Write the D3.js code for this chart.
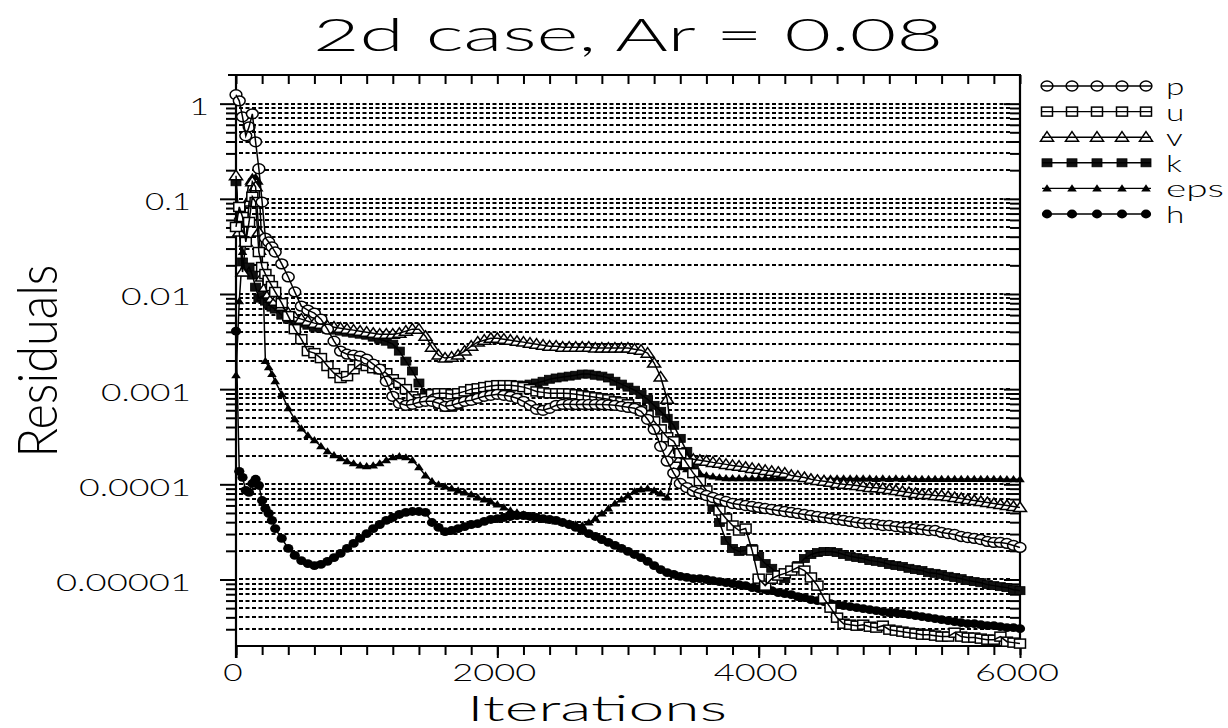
<!DOCTYPE html>
<html><head><meta charset="utf-8">
<script src="https://cdn.jsdelivr.net/npm/d3@7/dist/d3.min.js"></script>
<style>
html,body{margin:0;padding:0;background:#fff;}
svg{display:block;}
</style></head><body>
<svg id="chart" width="1228" height="728"></svg>
<script>
// ---------------- DATA ----------------
const iterations = [0,25,50,75,100,125,150,175,200,225,250,275,300,
 350,400,450,500,550,600,650,700,750,800,
 850,900,950,1000,1050,1100,1150,1200,1250,1300,
 1350,1400,1450,1500,1550,1600,1650,1700,1750,1800,
 1850,1900,1950,2000,2050,2100,2150,2200,2250,2300,
 2350,2400,2450,2500,2550,2600,2650,2700,2750,2800,
 2850,2900,2950,3000,3050,3100,3150,3200,3250,3300,
 3350,3400,3450,3500,3550,3600,3650,3700,3750,3800,
 3850,3900,3950,4000,4050,4100,4150,4200,4250,4300,
 4350,4400,4450,4500,4550,4600,4650,4700,4750,4800,
 4850,4900,4950,5000,5050,5100,5150,5200,5250,5300,
 5350,5400,5450,5500,5550,5600,5650,5700,5750,5800,
 5850,5900,5950,6000];

const residualP = [1.24,1.07,0.727,0.459,0.571,0.782,0.397,0.207,0.0925,0.0387,0.0352,0.0312,0.0276,
 0.0207,0.0151,0.0105,7.45e-3,6.76e-3,6.29e-3,5.44e-3,4.27e-3,3.19e-3,2.51e-3,
 2.33e-3,2.28e-3,2.22e-3,2.07e-3,1.83e-3,1.62e-3,1.21e-3,8.41e-4,7.10e-4,6.76e-4,
 6.93e-4,7.27e-4,7.45e-4,7.45e-4,7.10e-4,6.60e-4,6.76e-4,7.10e-4,7.45e-4,7.63e-4,
 8.01e-4,8.41e-4,8.62e-4,8.83e-4,8.62e-4,8.41e-4,8.01e-4,7.45e-4,6.76e-4,6.14e-4,
 5.99e-4,6.29e-4,6.76e-4,6.93e-4,6.93e-4,6.90e-4,6.93e-4,6.90e-4,6.93e-4,6.90e-4,
 6.85e-4,6.76e-4,6.60e-4,6.44e-4,6.29e-4,5.85e-4,4.82e-4,3.78e-4,2.51e-4,1.75e-4,
 1.31e-4,1.02e-4,9.25e-5,8.41e-5,8.01e-5,7.63e-5,7.27e-5,6.93e-5,6.60e-5,6.29e-5,
 6.14e-5,5.99e-5,5.85e-5,5.71e-5,5.57e-5,5.44e-5,5.31e-5,5.18e-5,5.06e-5,4.94e-5,
 4.82e-5,4.70e-5,4.59e-5,4.48e-5,4.37e-5,4.27e-5,4.17e-5,4.07e-5,3.97e-5,3.87e-5,
 3.87e-5,3.78e-5,3.69e-5,3.69e-5,3.60e-5,3.52e-5,3.52e-5,3.43e-5,3.35e-5,3.27e-5,
 3.27e-5,3.12e-5,3.04e-5,2.97e-5,2.83e-5,2.76e-5,2.70e-5,2.63e-5,2.51e-5,2.45e-5,
 2.45e-5,2.39e-5,2.28e-5,2.17e-5];

const residualU = [5.06e-2,8.21e-2,6.44e-2,3.52e-2,5.71e-2,0.105,9.25e-2,2.76e-2,1.92e-2,1.62e-2,1.40e-2,1.21e-2,1.05e-2,
 8.01e-3,5.85e-3,4.27e-3,3.35e-3,2.51e-3,2.39e-3,2.12e-3,1.75e-3,1.47e-3,1.31e-3,
 1.37e-3,1.62e-3,1.83e-3,1.75e-3,1.66e-3,1.62e-3,1.47e-3,1.27e-3,1.16e-3,1.0e-3,
 8.41e-4,7.82e-4,8.01e-4,8.83e-4,9.04e-4,9.04e-4,8.83e-4,9.04e-4,9.47e-4,1.0e-3,
 1.02e-3,1.05e-3,1.08e-3,1.10e-3,1.10e-3,1.10e-3,1.08e-3,1.05e-3,1.0e-3,9.47e-4,
 9.25e-4,9.04e-4,9.04e-4,9.04e-4,9.0e-4,8.83e-4,8.62e-4,8.41e-4,8.21e-4,8.01e-4,
 7.82e-4,7.45e-4,7.27e-4,6.93e-4,6.44e-4,5.99e-4,5.31e-4,4.59e-4,3.78e-4,3.12e-4,
 2.83e-4,2.12e-4,1.66e-4,1.31e-4,1.08e-4,8.62e-5,6.76e-5,5.31e-5,4.37e-5,3.69e-5,
 3.27e-5,3.43e-5,2.02e-5,1.02e-5,8.62e-6,1.02e-5,1.10e-5,1.16e-5,1.24e-5,1.34e-5,
 1.24e-5,1.05e-5,8.62e-6,6.29e-6,5.06e-6,3.97e-6,3.43e-6,3.35e-6,3.27e-6,3.35e-6,
 3.19e-6,3.12e-6,3.27e-6,2.97e-6,2.90e-6,2.83e-6,2.76e-6,2.70e-6,2.63e-6,2.63e-6,
 2.57e-6,2.51e-6,2.51e-6,2.76e-6,2.51e-6,2.45e-6,2.45e-6,2.39e-6,2.33e-6,2.33e-6,
 2.51e-6,2.22e-6,2.17e-6,2.12e-6];

const residualV = [0.175,4.48e-2,1.70e-2,3.52e-2,9.25e-2,0.151,0.134,4.48e-2,1.51e-2,1.18e-2,1.0e-2,9.04e-3,8.41e-3,
 7.45e-3,6.29e-3,5.71e-3,5.44e-3,5.18e-3,4.94e-3,4.82e-3,4.59e-3,4.48e-3,4.37e-3,
 4.27e-3,4.17e-3,4.07e-3,3.97e-3,3.87e-3,3.78e-3,3.78e-3,3.78e-3,3.87e-3,4.07e-3,
 4.27e-3,4.27e-3,3.60e-3,2.76e-3,2.28e-3,2.12e-3,2.17e-3,2.28e-3,2.51e-3,2.83e-3,
 3.12e-3,3.27e-3,3.43e-3,3.43e-3,3.35e-3,3.27e-3,3.19e-3,3.12e-3,3.04e-3,2.97e-3,
 2.90e-3,2.83e-3,2.83e-3,2.76e-3,2.76e-3,2.76e-3,2.76e-3,2.76e-3,2.70e-3,2.70e-3,
 2.70e-3,2.70e-3,2.70e-3,2.70e-3,2.63e-3,2.57e-3,2.39e-3,1.88e-3,1.34e-3,7.82e-4,
 2.12e-4,1.88e-4,1.83e-4,1.83e-4,1.79e-4,1.75e-4,1.70e-4,1.66e-4,1.62e-4,1.58e-4,
 1.55e-4,1.51e-4,1.47e-4,1.44e-4,1.40e-4,1.37e-4,1.34e-4,1.31e-4,1.24e-4,1.21e-4,
 1.18e-4,1.13e-4,1.10e-4,1.08e-4,1.05e-4,1.02e-4,1.0e-4,9.9e-5,9.7e-5,9.5e-5,
 9.25e-5,9.2e-5,9.04e-5,8.83e-5,8.62e-5,8.41e-5,8.21e-5,8.01e-5,7.82e-5,7.8e-5,
 7.63e-5,7.6e-5,7.45e-5,7.27e-5,7.10e-5,6.93e-5,6.76e-5,6.60e-5,6.44e-5,6.29e-5,
 6.14e-5,5.99e-5,5.85e-5,5.71e-5];

const residualK = [0.151,5.71e-2,2.17e-2,1.70e-2,1.92e-2,1.58e-2,1.18e-2,9.04e-3,9.47e-3,8.41e-3,7.82e-3,7.27e-3,6.93e-3,
 5.99e-3,5.44e-3,5.18e-3,4.94e-3,4.70e-3,4.48e-3,4.37e-3,4.27e-3,4.17e-3,4.07e-3,
 3.97e-3,3.87e-3,3.78e-3,3.69e-3,3.52e-3,3.35e-3,3.19e-3,2.97e-3,2.51e-3,1.97e-3,
 1.55e-3,1.16e-3,9.04e-4,7.82e-4,6.93e-4,6.44e-4,6.44e-4,6.76e-4,7.45e-4,8.01e-4,
 8.41e-4,8.83e-4,9.25e-4,9.47e-4,1.0e-3,1.05e-3,1.08e-3,1.10e-3,1.13e-3,1.16e-3,
 1.21e-3,1.27e-3,1.31e-3,1.34e-3,1.37e-3,1.40e-3,1.44e-3,1.44e-3,1.40e-3,1.37e-3,
 1.31e-3,1.21e-3,1.13e-3,1.05e-3,9.74e-4,8.83e-4,7.82e-4,6.76e-4,5.85e-4,4.94e-4,
 4.17e-4,3.04e-4,2.22e-4,1.55e-4,1.13e-4,8.21e-5,5.71e-5,3.97e-5,2.57e-5,2.12e-5,
 1.97e-5,2.02e-5,2.12e-5,1.75e-5,1.47e-5,1.31e-5,1.13e-5,1.02e-5,1.24e-5,1.40e-5,
 1.66e-5,1.83e-5,1.92e-5,1.97e-5,1.97e-5,1.92e-5,1.83e-5,1.75e-5,1.70e-5,1.66e-5,
 1.58e-5,1.55e-5,1.51e-5,1.44e-5,1.40e-5,1.37e-5,1.31e-5,1.27e-5,1.24e-5,1.18e-5,
 1.16e-5,1.13e-5,1.08e-5,1.05e-5,1.02e-5,9.74e-6,9.5e-6,9.25e-6,8.83e-6,8.62e-6,
 8.41e-6,8.21e-6,7.82e-6,7.63e-6];

const residualEps = [1.40e-3,8.41e-3,2.76e-2,9.25e-2,0.151,0.170,0.170,0.151,2.76e-2,1.97e-3,1.70e-3,1.44e-3,1.21e-3,
 8.83e-4,6.29e-4,4.82e-4,3.87e-4,3.27e-4,2.90e-4,2.51e-4,2.22e-4,2.02e-4,1.88e-4,
 1.75e-4,1.66e-4,1.58e-4,1.55e-4,1.58e-4,1.66e-4,1.79e-4,1.92e-4,1.97e-4,1.92e-4,
 1.79e-4,1.51e-4,1.24e-4,1.08e-4,9.97e-5,9.5e-5,9.04e-5,8.62e-5,8.21e-5,7.82e-5,
 7.27e-5,6.93e-5,6.60e-5,6.14e-5,5.71e-5,5.31e-5,5.06e-5,4.82e-5,4.59e-5,4.37e-5,
 4.27e-5,4.17e-5,4.07e-5,3.97e-5,3.87e-5,3.78e-5,3.69e-5,3.97e-5,4.37e-5,4.94e-5,
 5.57e-5,6.29e-5,6.93e-5,7.63e-5,8.41e-5,8.83e-5,9.04e-5,8.62e-5,8.01e-5,7.27e-5,
 1.37e-4,1.51e-4,1.44e-4,1.37e-4,1.31e-4,1.24e-4,1.21e-4,1.18e-4,1.16e-4,1.16e-4,
 1.16e-4,1.16e-4,1.16e-4,1.16e-4,1.16e-4,1.16e-4,1.16e-4,1.16e-4,1.16e-4,1.16e-4,
 1.16e-4,1.16e-4,1.16e-4,1.15e-4,1.15e-4,1.15e-4,1.15e-4,1.15e-4,1.15e-4,1.15e-4,
 1.15e-4,1.14e-4,1.15e-4,1.14e-4,1.15e-4,1.14e-4,1.15e-4,1.14e-4,1.14e-4,1.14e-4,
 1.14e-4,1.14e-4,1.14e-4,1.14e-4,1.14e-4,1.14e-4,1.14e-4,1.14e-4,1.14e-4,1.14e-4,
 1.14e-4,1.13e-4,1.13e-4,1.13e-4];

const residualH = [4.07e-3,1.37e-4,1.18e-4,8.62e-5,8.21e-5,1.02e-4,1.13e-4,9.74e-5,6.76e-5,5.57e-5,4.94e-5,4.17e-5,3.43e-5,
 2.70e-5,2.12e-5,1.79e-5,1.58e-5,1.47e-5,1.40e-5,1.44e-5,1.55e-5,1.70e-5,1.88e-5,
 2.12e-5,2.39e-5,2.70e-5,3.04e-5,3.43e-5,3.78e-5,4.17e-5,4.48e-5,4.82e-5,5.06e-5,
 5.18e-5,5.18e-5,5.06e-5,3.97e-5,3.52e-5,3.19e-5,3.27e-5,3.43e-5,3.60e-5,3.78e-5,
 3.87e-5,4.07e-5,4.27e-5,4.37e-5,4.48e-5,4.59e-5,4.70e-5,4.70e-5,4.59e-5,4.48e-5,
 4.37e-5,4.27e-5,4.17e-5,3.97e-5,3.78e-5,3.52e-5,3.27e-5,3.04e-5,2.83e-5,2.63e-5,
 2.45e-5,2.28e-5,2.12e-5,1.97e-5,1.83e-5,1.70e-5,1.55e-5,1.40e-5,1.27e-5,1.18e-5,
 1.13e-5,1.08e-5,1.05e-5,1.02e-5,1.02e-5,1.0e-5,9.74e-6,9.5e-6,9.25e-6,9.04e-6,
 8.83e-6,8.62e-6,8.21e-6,8.01e-6,7.82e-6,7.63e-6,7.27e-6,7.10e-6,6.93e-6,6.60e-6,
 6.44e-6,6.14e-6,5.99e-6,5.85e-6,5.57e-6,5.44e-6,5.31e-6,5.18e-6,5.06e-6,4.94e-6,
 4.82e-6,4.70e-6,4.59e-6,4.48e-6,4.48e-6,4.37e-6,4.27e-6,4.17e-6,4.07e-6,3.97e-6,
 3.87e-6,3.78e-6,3.69e-6,3.60e-6,3.52e-6,3.43e-6,3.43e-6,3.35e-6,3.27e-6,3.27e-6,
 3.19e-6,3.12e-6,3.12e-6,3.04e-6];

const seriesNames = ["p","u","v","k","eps","h"];
const xTickValues = [0,2000,4000,6000];
const xTickLabels = ["0","2000","4000","6000"];
const yTickValues = [1,0.1,0.01,0.001,0.0001,0.00001];
const yTickLabels = ["1","0.1","0.01","0.001","0.0001","0.00001"];
const titleText = "2d case, Ar = 0.08";
const xAxisTitle = "Iterations";
const yAxisTitle = "Residuals";

// ---------------- CHART ----------------
const FONT = "Lato, 'DejaVu Sans', sans-serif";
const svg = d3.select("#chart");
svg.append("rect").attr("width",1228).attr("height",728).attr("fill","#fff");

const x = d3.scaleLinear().domain([0,6000]).range([236,1020]);
const y = d3.scaleLog().domain([2e-6,2]).range([646,75]);

const isDecade = v => Math.abs(Math.log10(v) - Math.round(Math.log10(v))) < 1e-6;
const gridValues = y.ticks().filter(v => v > 2.0001e-6 && v < 1.9999);
const majorY = gridValues.filter(isDecade);
const minorY = gridValues.filter(v => !isDecade(v));

// dashed horizontal grid
svg.append("g").selectAll("line").data(gridValues).join("line")
  .attr("x1", x(0)+3).attr("x2", x(6000)-9)
  .attr("y1", d => Math.round(y(d))).attr("y2", d => Math.round(y(d)))
  .attr("stroke","#000").attr("stroke-width",2).attr("stroke-dasharray","4,2.5");

function styleAxis(g){
  g.select(".domain").remove();
  g.selectAll("text").remove();
  g.selectAll("line").attr("stroke","#000").attr("stroke-width",2);
}
svg.append("g").attr("transform",`translate(${x(0)},0)`).call(d3.axisLeft(y).tickValues(majorY).tickSize(16)).call(styleAxis);
svg.append("g").attr("transform",`translate(${x(0)},0)`).call(d3.axisLeft(y).tickValues(minorY).tickSize(10)).call(styleAxis);
svg.append("g").attr("transform",`translate(${x(6000)},0)`).call(d3.axisRight(y).tickValues(majorY).tickSize(-16)).call(styleAxis);
svg.append("g").attr("transform",`translate(${x(6000)},0)`).call(d3.axisRight(y).tickValues(minorY).tickSize(-10)).call(styleAxis);
svg.append("g").attr("transform",`translate(0,${y(2e-6)})`).call(d3.axisBottom(x).tickValues(x.ticks(30)).tickSize(9)).call(styleAxis);
svg.append("g").attr("transform",`translate(0,${y(2e-6)})`).call(d3.axisBottom(x).tickValues(xTickValues).tickSize(12)).call(styleAxis);
svg.append("g").attr("transform",`translate(0,${y(2)})`).call(d3.axisTop(x).tickValues(x.ticks(30)).tickSize(-9)).call(styleAxis);

// frame
const frame = svg.append("g").attr("stroke","#000").attr("stroke-width",2.2).attr("fill","none");
frame.append("line").attr("x1",x(0)-8).attr("x2",x(6000)+1).attr("y1",y(2)).attr("y2",y(2));
frame.append("line").attr("x1",x(6000)).attr("x2",x(6000)).attr("y1",y(2)).attr("y2",y(2e-6));
frame.append("line").attr("x1",x(0)).attr("x2",x(6000)).attr("y1",y(2e-6)).attr("y2",y(2e-6));
frame.append("line").attr("x1",x(0)).attr("x2",x(0)).attr("y1",y(2)).attr("y2",y(2e-6)+12);

// marker shapes
const markerDraw = {
  p: g => g.append("ellipse").attr("rx",5.9).attr("ry",4.9).attr("fill","#fff").attr("stroke","#000").attr("stroke-width",1.5),
  u: g => g.append("rect").attr("x",-5.5).attr("y",-4.5).attr("width",11).attr("height",9).attr("fill","#fff").attr("stroke","#000").attr("stroke-width",1.5),
  v: g => g.append("path").attr("d","M0,-5.5L6.5,4L-6.5,4Z").attr("fill","#fff").attr("stroke","#000").attr("stroke-width",1.5),
  k: g => g.append("rect").attr("x",-5).attr("y",-4).attr("width",10).attr("height",8).attr("fill","#111").attr("stroke","#000").attr("stroke-width",0.8),
  eps: g => g.append("path").attr("d","M0,-4.2L4.8,3L-4.8,3Z").attr("fill","#000"),
  h: g => g.append("ellipse").attr("rx",5.1).attr("ry",4.4).attr("fill","#000")
};

const seriesValues = {p:residualP,u:residualU,v:residualV,k:residualK,eps:residualEps,h:residualH};
const line = d3.line().x(d => x(d[0])).y(d => y(d[1]));
const drawOrder = ["h","eps","k","v","u","p"];
const plot = svg.append("g");
drawOrder.forEach(name => {
  const vals = seriesValues[name];
  const pts = iterations.map((it,i) => [it, vals[i]]).filter(d => d[1] !== undefined);
  const g = plot.append("g");
  g.selectAll("g").data(pts).join("g")
    .attr("transform", d => `translate(${x(d[0])},${y(d[1])})`)
    .each(function(){ markerDraw[name](d3.select(this)); });
  g.append("path").attr("d", line(pts)).attr("fill","none").attr("stroke","#000").attr("stroke-width",1.5);
});

// text helper: cap-height set by font-size, width along the text set by textLength
function fitText(x0, y0, str, size, anchor, width, rotate){
  const t = svg.append("text")
    .attr("font-family", FONT).attr("font-weight", 300)
    .attr("font-size", size).attr("text-anchor", anchor).attr("fill","#000")
    .style("white-space","pre").text(str);
  const natural = t.node().getComputedTextLength();
  const target = width || natural * 1.45;
  t.attr("textLength", target).attr("lengthAdjust","spacingAndGlyphs")
   .attr("transform", `translate(${x0},${y0})` + (rotate ? " rotate(-90)" : ""));
  return t;
}

// title and axis titles
fitText(628, 51, titleText, 45, "middle", 630);
fitText(597, 720.5, xAxisTitle, 35, "middle", 260);
fitText(57, 361, yAxisTitle, 56, "middle", 193, true);

// y tick labels
const yLabelWidth = {"0.1":46,"0.01":70,"0.001":90,"0.0001":112,"0.00001":135};
yTickValues.forEach((v,i) => {
  const lab = yTickLabels[i];
  const xr = lab === "1" ? 209 : 191;
  fitText(xr, y(v) + 11.5, lab, 23.5, "end", yLabelWidth[lab]);
});
// x tick labels
xTickValues.forEach((v,i) => {
  const lab = xTickLabels[i];
  fitText(x(v) - 3, 681, lab, 23, "middle", lab.length > 1 ? 84 : null);
});

// legend
const legendRowY = d3.scaleLinear().domain([0,5]).range([86,214]);
const legendMarkerX = [1047,1072,1097,1122,1146];
seriesNames.forEach((name,i) => {
  const ry = legendRowY(i);
  const g = svg.append("g");
  legendMarkerX.forEach(mx => {
    const mg = g.append("g").attr("transform",`translate(${mx},${ry})`);
    markerDraw[name](mg);
    mg.selectAll("ellipse,rect,path").filter(function(){ return d3.select(this).attr("fill") === "#fff"; }).attr("fill","none");
  });
  g.append("line").attr("x1",1042).attr("x2",1151).attr("y1",ry).attr("y2",ry).attr("stroke","#000").attr("stroke-width",1.4);
  fitText(1166, ry + 9, name, 23, "start", name === "eps" ? 58 : null);
});
</script>
</body></html>
